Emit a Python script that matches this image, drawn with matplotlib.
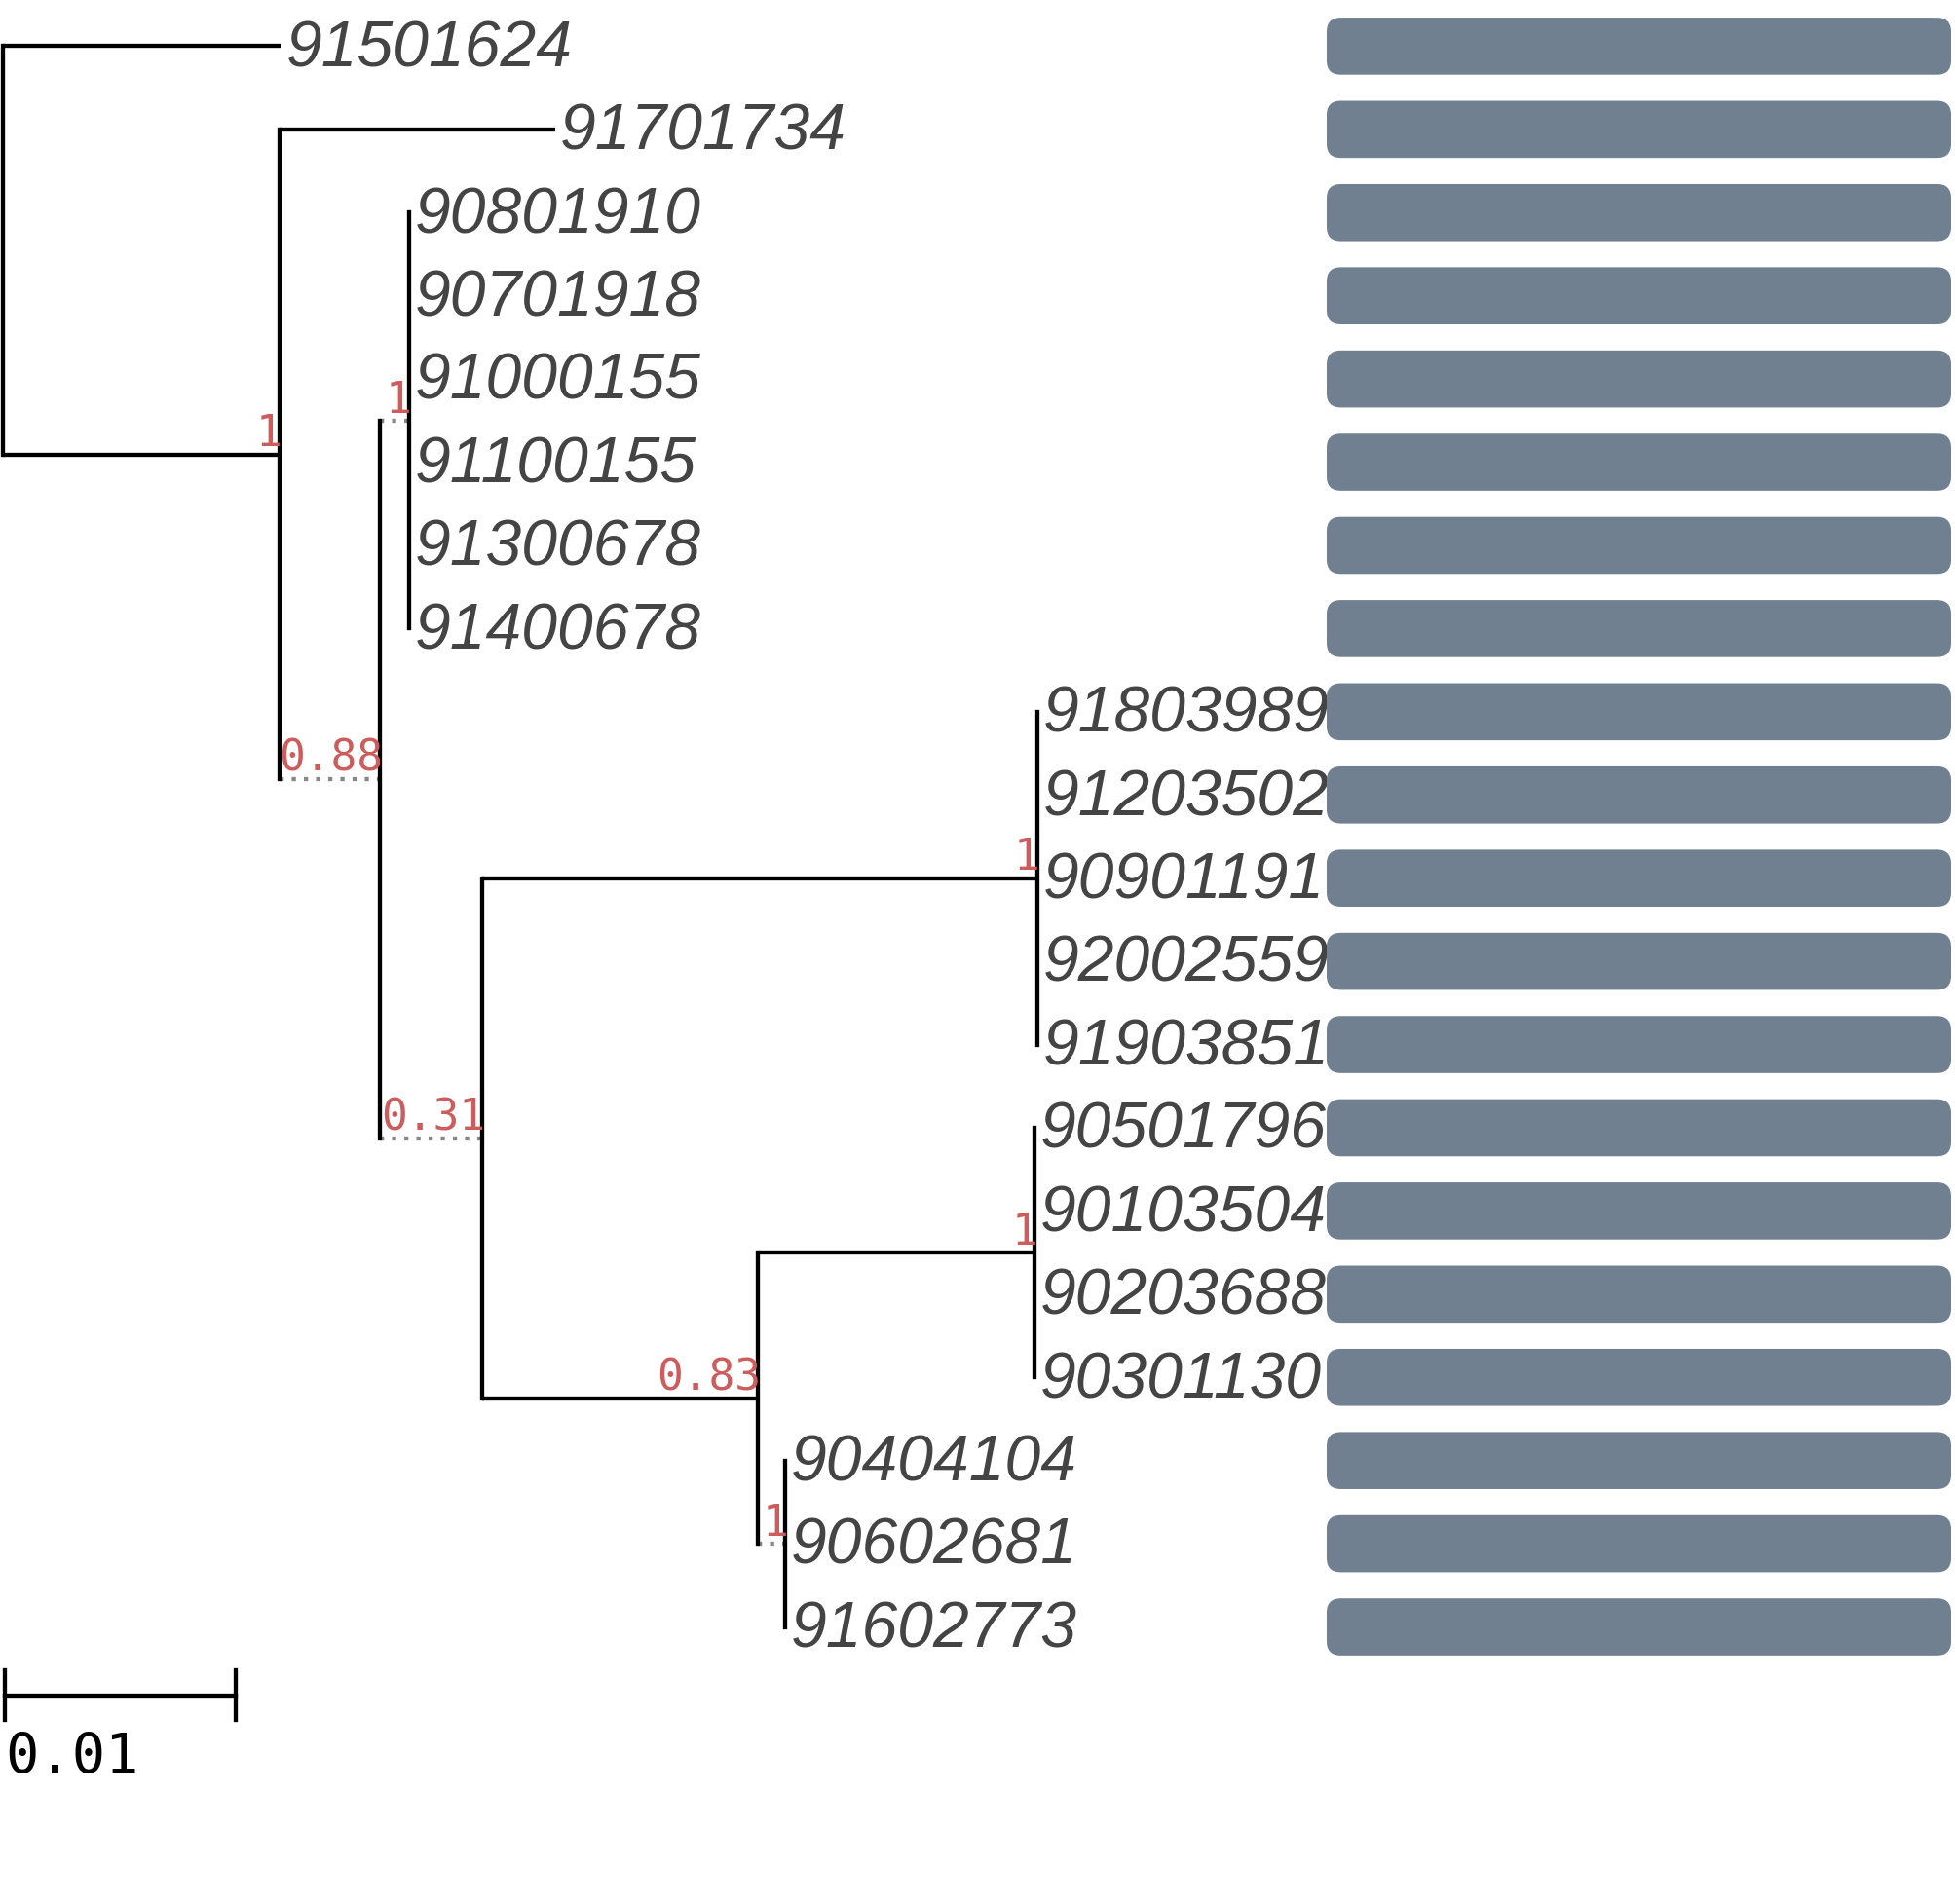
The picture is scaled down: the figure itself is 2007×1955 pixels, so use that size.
import matplotlib
matplotlib.use("Agg")
import matplotlib.pyplot as plt
from matplotlib.patches import FancyBboxPatch

# tree: node name, parent, branch length, support
node_names = ["root", "A", "B", "C", "D", "E", "F", "G", "H"]
node_parents = [None, "root", "A", "B", "B", "D", "D", "F", "F"]
node_lengths = [0.0, 0.0120, 0.00438, 0.00124, 0.00443, 0.02405, 0.01195, 0.0120, 0.00119]
node_support = [None, "1", "0.88", "1", "0.31", "1", "0.83", "1", "1"]
dotted_nodes = ["B", "C", "D", "H"]

leaf_names = ["91501624", "91701734", "90801910", "90701918", "91000155",
              "91100155", "91300678", "91400678", "91803989", "91203502",
              "90901191", "92002559", "91903851", "90501796", "90103504",
              "90203688", "90301130", "90404104", "90602681", "91602773"]
leaf_parents = ["root", "A", "C", "C", "C", "C", "C", "C", "E", "E",
                "E", "E", "E", "G", "G", "G", "G", "H", "H", "H"]
leaf_lengths = [0.01205, 0.01195, 0, 0, 0, 0, 0, 0, 0, 0,
                0, 0, 0, 0, 0, 0, 0, 0, 0, 0]
bar_values = [1, 1, 1, 1, 1, 1, 1, 1, 1, 1,
              1, 1, 1, 1, 1, 1, 1, 1, 1, 1]
scale_length = 0.01

# ---- layout
children = {n: [] for n in node_names}
parent_of = {}
length_of = {}
for n, p, l in zip(node_names, node_parents, node_lengths):
    parent_of[n] = p
    length_of[n] = l
    if p is not None:
        children[p].append(n)
for n, p, l in zip(leaf_names, leaf_parents, leaf_lengths):
    parent_of[n] = p
    length_of[n] = l
    children[p].append(n)
    children[n] = []

order = {}
for i, n in enumerate(leaf_names):
    order[n] = i


def first_leaf(n):
    if not children[n]:
        return order[n]
    return min(first_leaf(c) for c in children[n])


for n in children:
    children[n].sort(key=first_leaf)

xpos, ypos = {}, {}


def place(n, x0):
    xpos[n] = x0 + length_of[n]
    if not children[n]:
        ypos[n] = order[n]
        return
    for c in children[n]:
        place(c, xpos[n])
    ypos[n] = (ypos[children[n][0]] + ypos[children[n][-1]]) / 2


place("root", 0.0)

W, H = 2007, 1955
fig = plt.figure(figsize=(W / 100, H / 100), dpi=100)
ax = fig.add_axes([0, 0, 1, 1])
ax.set_xlim(-0.000108, 0.08465)
ax.set_ylim(22.33, -0.555)
ax.axis("off")

lw = 3.1
for n in xpos:
    p = parent_of[n]
    if p is not None:
        if n in dotted_nodes:
            ax.plot([xpos[p], xpos[n]], [ypos[n], ypos[n]], color="#888888",
                    lw=lw, dashes=(1.0, 1.9), solid_capstyle="butt", zorder=2)
        else:
            ax.plot([xpos[p], xpos[n]], [ypos[n], ypos[n]], color="black",
                    lw=lw, solid_capstyle="butt", zorder=3)
    if children[n]:
        ys = [ypos[c] for c in children[n]]
        ax.plot([xpos[n], xpos[n]], [min(ys), max(ys)], color="black",
                lw=lw, solid_capstyle="projecting", zorder=3)

for n, s in zip(node_names, node_support):
    if s is None:
        continue
    ax.annotate(s, (xpos[n], ypos[n]), xytext=(2, 6), textcoords="offset points",
                ha="right", va="baseline", color="#cd5c5c",
                family="DejaVu Sans Mono", fontsize=32, zorder=4)

for n in leaf_names:
    ax.annotate(n, (xpos[n], ypos[n]), xytext=(4, -15), textcoords="offset points",
                ha="left", va="baseline", color="#444444", style="italic",
                family="Liberation Sans", fontsize=47.5, zorder=5)

# scale bar
sy = 19.82
sx0 = 0.0001
ax.plot([sx0, sx0 + scale_length], [sy, sy], color="black", lw=lw, zorder=3)
for xx in (sx0, sx0 + scale_length):
    ax.plot([xx, xx], [sy - 0.3, sy + 0.3], color="black", lw=lw, zorder=3)
ax.text(sx0, 20.76, "0.01", ha="left", va="baseline", color="black",
        family="DejaVu Sans Mono", fontsize=41)

# bars panel
bx0, bx1 = 1362 / W, 2003 / W
bax = fig.add_axes([bx0, 0, bx1 - bx0, 1])
bax.set_xlim(0, 1)
bax.set_ylim(22.33, -0.555)
bax.axis("off")
bar_h = 0.686
px_per_x = (bx1 - bx0) * W
px_per_y = H / (22.33 + 0.555)
aspect = px_per_x / px_per_y
for i, v in enumerate(bar_values):
    bax.add_patch(FancyBboxPatch((0, i - bar_h / 2), v, bar_h,
                                 boxstyle="round,pad=0,rounding_size=%f" % (14.5 / px_per_x),
                                 mutation_aspect=aspect, facecolor="#708090",
                                 edgecolor="none"))

fig.savefig("out.png", dpi=100)
